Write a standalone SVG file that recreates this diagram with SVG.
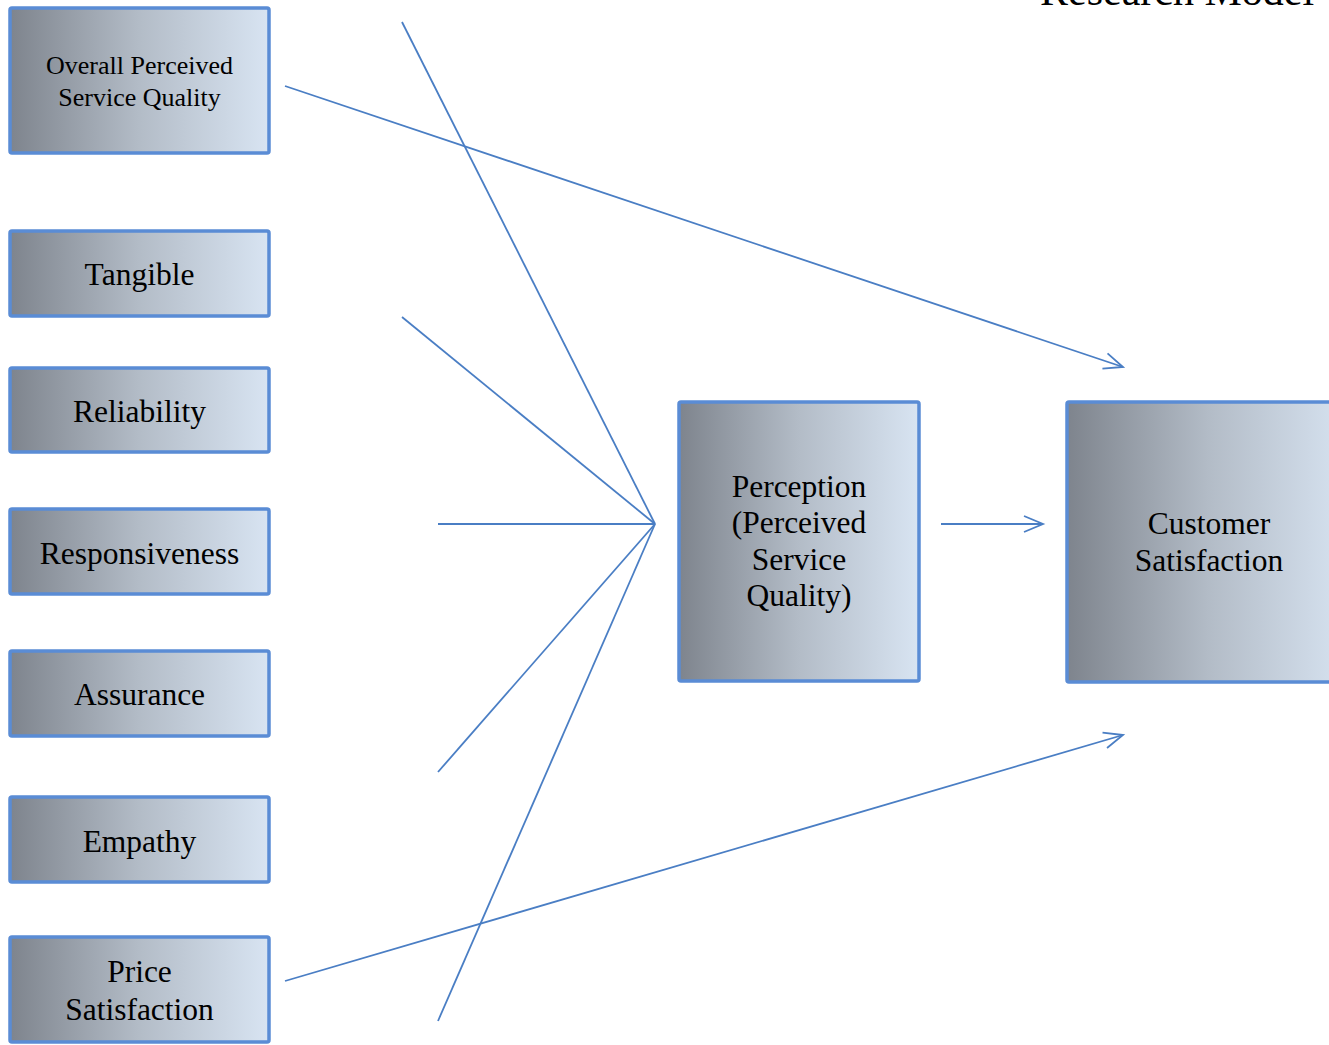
<svg xmlns="http://www.w3.org/2000/svg" width="1329" height="1045" viewBox="0 0 1329 1045">
<defs>
<linearGradient id="g" x1="0" y1="0" x2="1" y2="0">
<stop offset="0" stop-color="#7E848D"/>
<stop offset="0.5" stop-color="#B3BCC7"/>
<stop offset="1" stop-color="#D8E4F2"/>
</linearGradient>
<marker id="ah" markerUnits="userSpaceOnUse" markerWidth="30" markerHeight="30" viewBox="-25 -15 30 30" refX="0" refY="0" orient="auto">
<path d="M -19 -8 L 0 0 L -19 8" fill="none" stroke="#4A7EC4" stroke-width="1.8"/>
</marker>
</defs>
<style>
.box{fill:url(#g);stroke:#5A8CD5;stroke-width:3.5}
.t{font-family:"Liberation Serif","Times New Roman",serif;font-size:31.5px;fill:#000;text-anchor:middle}
.s{font-size:26px}
.c{stroke:#4A7EC4;stroke-width:1.8;fill:none}
</style>
<text x="1040" y="5" style="font-family:'Liberation Serif',serif;font-size:42px;fill:#000">Research Model</text>
<g id="connectors">
<line class="c" x1="285" y1="86" x2="1123" y2="367" marker-end="url(#ah)"/>
<line class="c" x1="402" y1="22" x2="655" y2="524"/>
<line class="c" x1="402" y1="317" x2="655" y2="524"/>
<line class="c" x1="438" y1="524" x2="655" y2="524"/>
<line class="c" x1="438" y1="772" x2="655" y2="524"/>
<line class="c" x1="438" y1="1021" x2="655" y2="524"/>
<line class="c" x1="941" y1="524" x2="1043" y2="524" marker-end="url(#ah)"/>
<line class="c" x1="285" y1="981" x2="1123" y2="735" marker-end="url(#ah)"/>
</g>
<g id="overall">
<rect class="box" x="10" y="8" width="259" height="145" rx="2"/>
<text class="t s" x="139.5" y="74">Overall Perceived</text>
<text class="t s" x="139.5" y="106">Service Quality</text>
</g>
<g id="tangible">
<rect class="box" x="10" y="231" width="259" height="85" rx="2"/>
<text class="t" x="139.5" y="285">Tangible</text>
</g>
<g id="reliability">
<rect class="box" x="10" y="368" width="259" height="84" rx="2"/>
<text class="t" x="139.5" y="422">Reliability</text>
</g>
<g id="responsiveness">
<rect class="box" x="10" y="509" width="259" height="85" rx="2"/>
<text class="t" x="139.5" y="564">Responsiveness</text>
</g>
<g id="assurance">
<rect class="box" x="10" y="651" width="259" height="85" rx="2"/>
<text class="t" x="139.5" y="705">Assurance</text>
</g>
<g id="empathy">
<rect class="box" x="10" y="797" width="259" height="85" rx="2"/>
<text class="t" x="139.5" y="852">Empathy</text>
</g>
<g id="price">
<rect class="box" x="10" y="937" width="259" height="105" rx="2"/>
<text class="t" x="139.5" y="982">Price</text>
<text class="t" x="139.5" y="1020">Satisfaction</text>
</g>
<g id="perception">
<rect class="box" x="679" y="402" width="240" height="279" rx="2"/>
<text class="t" x="799" y="497">Perception</text>
<text class="t" x="799" y="533">(Perceived</text>
<text class="t" x="799" y="570">Service</text>
<text class="t" x="799" y="606">Quality)</text>
</g>
<g id="satisfaction">
<rect class="box" x="1067" y="402" width="285" height="280" rx="2"/>
<text class="t" x="1209" y="534">Customer</text>
<text class="t" x="1209" y="571">Satisfaction</text>
</g>
</svg>
